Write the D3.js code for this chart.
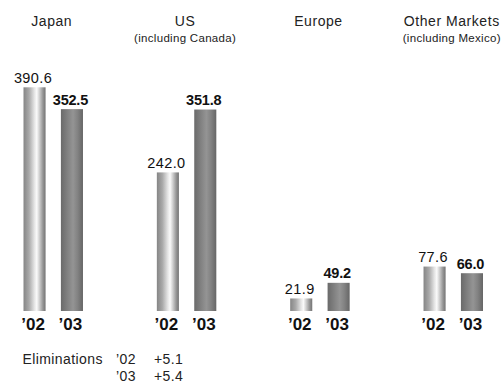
<!DOCTYPE html>
<html>
<head>
<meta charset="utf-8">
<script src="https://cdn.jsdelivr.net/npm/d3@7"></script>
<style>
  html, body { margin: 0; padding: 0; background: #fff; }
  svg { display: block; }
</style>
</head>
<body>
<svg id="chart"></svg>
<script>
const regions = ["Japan", "US", "Europe", "Other Markets"];
const subtitles = ["", "(including Canada)", "", "(including Mexico)"];
const years = ["’02", "’03"];
const values02 = [390.6, 242.0, 21.9, 77.6];
const values03 = [352.5, 351.8, 49.2, 66.0];
const elimLabel = "Eliminations";
const elimYears = ["’02", "’03"];
const elimValues = ["+5.1", "+5.4"];

const W = 504, H = 383;
const FONT = "'Liberation Sans', Arial, Helvetica, sans-serif";
const baseY = 311;

const svg = d3.select("#chart").attr("width", W).attr("height", H);

// gradients for the cylinder-looking bars
const defs = svg.append("defs");
const grads = {
  "’02": [[0, "#858585"], [0.25, "#a9a9a9"], [0.5, "#e6e6e6"], [0.6, "#fafafa"], [0.72, "#d0d0d0"], [0.88, "#959595"], [1, "#747474"]],
  "’03": [[0, "#6a6a6a"], [0.35, "#858585"], [0.55, "#949494"], [0.75, "#838383"], [1, "#666666"]]
};
years.forEach((yr, i) => {
  const lg = defs.append("linearGradient").attr("id", "grad" + i)
    .attr("x1", "0%").attr("x2", "100%").attr("y1", "0%").attr("y2", "0%");
  grads[yr].forEach(s => lg.append("stop").attr("offset", s[0]).attr("stop-color", s[1]));
});

// scales
const x0 = d3.scaleBand().domain(regions).range([23.5, 483]).paddingInner(0.554).paddingOuter(0);
const x1 = d3.scaleBand().domain(years).range([0, x0.bandwidth()]).paddingInner(0.41);
const y = d3.scaleLinear().domain([0, 400]).range([baseY, baseY - 0.5727 * 400]);

const rows = regions.map((r, i) => ({ region: r, sub: subtitles[i], vals: [values02[i], values03[i]] }));

// region titles
const head = svg.append("g").selectAll("g").data(rows).join("g")
  .attr("transform", d => `translate(${x0(d.region) + x0.bandwidth() / 2 - 1.5},0)`);
head.append("text")
  .attr("y", 26).attr("text-anchor", "middle")
  .style("font-family", FONT).style("font-size", "14px").style("letter-spacing", "0.55px")
  .style("fill", "#222").text(d => d.region);
head.append("text")
  .attr("y", 42).attr("text-anchor", "middle")
  .style("font-family", FONT).style("font-size", "11.5px").style("letter-spacing", "0.3px")
  .style("fill", "#222").text(d => d.sub);

// bars
const grp = svg.append("g").selectAll("g").data(rows).join("g")
  .attr("transform", d => `translate(${x0(d.region)},0)`);

const cells = grp.selectAll("g").data(d => d.vals.map((v, j) => ({ yr: years[j], j, v }))).join("g");

cells.append("rect")
  .attr("x", d => x1(d.yr)).attr("width", x1.bandwidth())
  .attr("y", d => y(d.v)).attr("height", d => y(0) - y(d.v))
  .attr("fill", d => `url(#grad${d.j})`);

cells.append("text")
  .attr("x", d => x1(d.yr) + x1.bandwidth() / 2 - 1.5)
  .attr("y", d => y(d.v) - 4.5)
  .attr("text-anchor", "middle")
  .style("font-family", FONT).style("font-size", "14.5px")
  .style("font-weight", d => d.j === 1 ? "bold" : "normal")
  .style("letter-spacing", d => d.j === 1 ? "-0.2px" : "0.4px")
  .style("fill", "#111")
  .text(d => d.v.toFixed(1));

cells.append("text")
  .attr("x", d => x1(d.yr) + x1.bandwidth() / 2 - 1.5)
  .attr("y", 330)
  .attr("text-anchor", "middle")
  .style("font-family", FONT).style("font-size", "17px").style("font-weight", "bold")
  .style("fill", "#111")
  .text(d => d.yr);

// eliminations note
const note = svg.append("g").style("font-family", FONT).style("font-size", "14px")
  .style("letter-spacing", "0.4px").style("fill", "#222");
note.append("text").attr("x", 22.5).attr("y", 364).text(elimLabel);
elimYears.forEach((yr, i) => {
  note.append("text").attr("x", 116).attr("y", 364 + i * 17.4).text(yr);
  note.append("text").attr("x", 154).attr("y", 364 + i * 17.4).text(elimValues[i]);
});
</script>
</body>
</html>
